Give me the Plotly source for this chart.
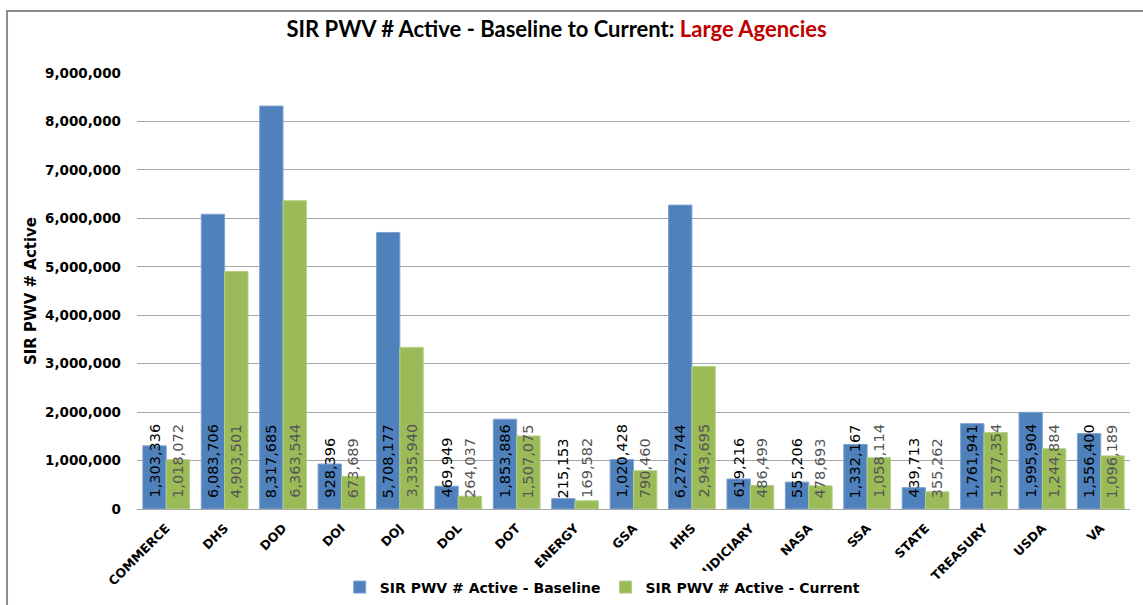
import plotly.graph_objects as go

categories = ["COMMERCE", "DHS", "DOD", "DOI", "DOJ", "DOL", "DOT", "ENERGY", "GSA",
              "HHS", "JUDICIARY", "NASA", "SSA", "STATE", "TREASURY", "USDA", "VA"]
baseline = [1303336, 6083706, 8317685, 928396, 5708177, 469949, 1853886, 215153, 1020428,
            6272744, 619216, 555206, 1332167, 439713, 1761941, 1995904, 1556400]
current = [1018072, 4903501, 6363544, 673689, 3335940, 264037, 1507075, 169582, 790460,
           2943695, 486499, 478693, 1058114, 355262, 1577354, 1244884, 1096189]
y_ticks = [0, 1000000, 2000000, 3000000, 4000000, 5000000, 6000000, 7000000, 8000000, 9000000]

BLUE = "#4F81BD"
GREEN = "#9BBB59"
FONT = "DejaVu Sans"

fig = go.Figure()
fig.add_trace(go.Bar(x=categories, y=baseline, name="SIR PWV # Active - Baseline",
                     marker=dict(color=BLUE, line=dict(color="#7FA3D0", width=1))))
fig.add_trace(go.Bar(x=categories, y=current, name="SIR PWV # Active - Current",
                     marker=dict(color=GREEN, line=dict(color="#B5CF82", width=1))))

annotations = []
for c, b, g in zip(categories, baseline, current):
    annotations.append(dict(x=c, y=0, xref="x", yref="y", text=f"{b:,}", showarrow=False,
                            textangle=-90, xanchor="center", yanchor="bottom", xshift=-11.7,
                            yshift=9, font=dict(family=FONT, size=14.5, color="#000000")))
    annotations.append(dict(x=c, y=0, xref="x", yref="y", text=f"{g:,}", showarrow=False,
                            textangle=-90, xanchor="center", yanchor="bottom", xshift=11.7,
                            yshift=9, font=dict(family=FONT, size=14.5, color="#555555")))

fig.update_layout(
    width=1143, height=605,
    margin=dict(l=137, r=13, t=73, b=96, autoexpand=False),
    paper_bgcolor="white", plot_bgcolor="white",
    barmode="group", bargap=0.2, bargroupgap=0,
    title=dict(text="<b>SIR PWV # Active - Baseline to Current: <span style='color:#C00000'>Large Agencies</span></b>",
               x=0.487, xref="container", y=0.952, yref="container", xanchor="center", yanchor="middle",
               font=dict(family="Lato", size=22, color="#000000")),
    legend=dict(orientation="h", x=0.469, xanchor="center", y=-0.18, yanchor="middle",
                font=dict(family=FONT, size=14, color="#000000", weight="bold"), itemwidth=30,
                traceorder="normal"),
    annotations=annotations,
    shapes=[dict(type="path", xref="paper", yref="paper",
                 path="M -0.1309,-0.5 L -0.1309,1.1422 L 1.2,1.1422",
                 line=dict(color="#8C8C8C", width=2))],
    font=dict(family=FONT, color="#000000"),
)
fig.update_yaxes(range=[0, 9000000], tickvals=y_ticks, tickformat=",d", automargin=False,
                 showgrid=True, gridcolor="#A6A6A6", gridwidth=1,
                 tickfont=dict(family=FONT, size=13.5, color="#000000", weight="bold"),
                 title=dict(text="<b>SIR PWV # Active</b>", font=dict(family=FONT, size=15, color="#000000"),
                            standoff=4),
                 zeroline=True, zerolinecolor="#A6A6A6", zerolinewidth=1, ticks="", ticklabelstandoff=15)
fig.update_xaxes(tickangle=-45, tickfont=dict(family=FONT, size=12.5, color="#000000", weight="bold"),
                 automargin=False, ticklabelstandoff=6,
                 showline=True, linecolor="#A6A6A6", linewidth=1, ticks="")

fig.write_html("out.html", config={"displayModeBar": False},
               post_script="document.body.style.margin='0';")
